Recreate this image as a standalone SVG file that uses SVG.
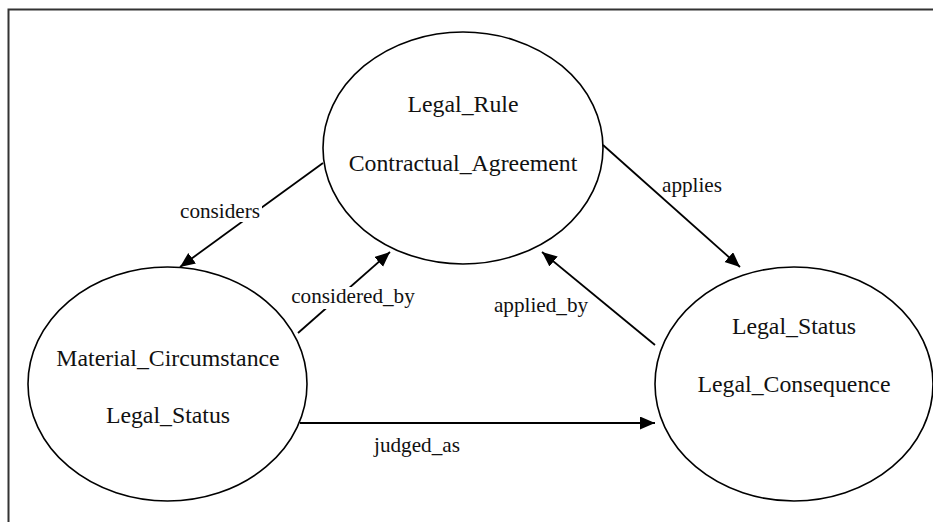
<svg xmlns="http://www.w3.org/2000/svg" width="933" height="522" viewBox="0 0 933 522">
<style>
.node{fill:none;stroke:#000;stroke-width:1.6}
.nt{font-family:"Liberation Serif","Times New Roman",serif;font-size:23.8px;fill:#111;text-anchor:middle}
.et{font-family:"Liberation Serif","Times New Roman",serif;font-size:21.2px;fill:#111;text-anchor:middle}
.edge{fill:none;stroke:#000;stroke-width:1.8;marker-end:url(#arr)}
.bg{fill:#fff}
</style>
<defs>
<marker id="arr" markerUnits="userSpaceOnUse" markerWidth="16" markerHeight="14" refX="15" refY="6.5" orient="auto">
<path d="M0,0 L15,6.5 L0,13 z" fill="#000"/>
</marker>
</defs>
<rect width="933" height="522" fill="#fff"/>
<path d="M8.5,522 V9.5 H933" fill="none" stroke="#333" stroke-width="2"/>
<g id="connectors">
<line class="edge" x1="323" y1="163" x2="180" y2="267"/>
<line class="edge" x1="298" y1="333" x2="390" y2="252"/>
<line class="edge" x1="603" y1="145" x2="740" y2="267"/>
<line class="edge" x1="655" y1="345" x2="542" y2="252"/>
<line class="edge" x1="300" y1="423" x2="655" y2="423"/>
<rect class="bg" x="180" y="200" width="82" height="22"/>
<text class="et" x="220" y="218">considers</text>
<rect class="bg" x="290" y="287" width="126" height="22"/>
<text class="et" x="353" y="303">considered_by</text>
<text class="et" x="692" y="192">applies</text>
<text class="et" x="541" y="312">applied_by</text>
<text class="et" x="417" y="452">judged_as</text>
</g>
<g id="node-legal-rule">
<ellipse class="node" cx="463" cy="148" rx="140" ry="116"/>
<text class="nt" x="463" y="112">Legal_Rule</text>
<text class="nt" x="463" y="171">Contractual_Agreement</text>
</g>
<g id="node-material">
<ellipse class="node" cx="167.5" cy="384" rx="139.5" ry="117"/>
<text class="nt" x="168" y="366">Material_Circumstance</text>
<text class="nt" x="168" y="423">Legal_Status</text>
</g>
<g id="node-legal-status">
<ellipse class="node" cx="794" cy="384" rx="139" ry="117"/>
<text class="nt" x="794" y="334">Legal_Status</text>
<text class="nt" x="794" y="392">Legal_Consequence</text>
</g>
</svg>
